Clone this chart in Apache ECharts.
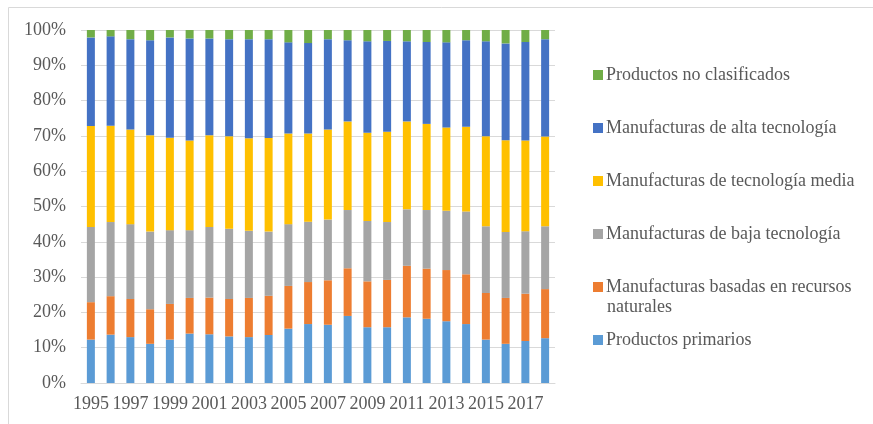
<!DOCTYPE html>
<html><head><meta charset="utf-8">
<script src="https://cdn.jsdelivr.net/npm/echarts@6/dist/echarts.min.js"></script>
<style>html,body{margin:0;padding:0;background:#fff}#c{width:873px;height:424px}</style>
</head><body><div id="c"></div>
<script>
const years = ['1995','1996','1997','1998','1999','2000','2001','2002','2003','2004','2005','2006','2007','2008','2009','2010','2011','2012','2013','2014','2015','2016','2017','2018'];
const productosPrimarios = [12.3,13.7,13.0,11.1,12.3,14.0,13.8,13.2,13.0,13.6,15.4,16.7,16.5,19.0,15.8,15.8,18.6,18.2,17.5,16.7,12.3,11.1,11.9,12.7];
const basadasRecursos = [10.6,10.9,10.8,9.8,10.1,10.1,10.4,10.6,11.1,11.1,12.1,11.9,12.6,13.5,13.0,13.4,14.6,14.2,14.5,14.1,13.2,13.0,13.4,13.9];
const bajaTecnologia = [21.3,21.0,21.2,22.0,20.9,19.2,20.0,19.9,19.0,18.2,17.5,17.1,17.2,16.5,17.1,16.4,16.0,16.6,16.8,17.8,18.9,18.7,17.7,17.8];
const tecnologiaMedia = [28.6,27.3,26.8,27.3,26.2,25.4,26.0,26.2,26.2,26.5,25.7,25.0,25.5,25.1,25.0,25.6,24.9,24.4,23.6,24.0,25.5,26.0,25.7,25.4];
const altaTecnologia = [25.1,25.3,25.6,26.9,28.4,28.9,27.4,27.5,28.1,28.0,25.8,25.6,25.6,23.0,25.9,25.7,22.7,23.2,24.1,24.5,26.9,27.4,27.9,27.6];
const noClasificados = [2.1,1.8,2.6,2.9,2.1,2.4,2.4,2.6,2.6,2.6,3.5,3.7,2.6,2.9,3.2,3.1,3.2,3.4,3.5,2.9,3.2,3.8,3.4,2.6];
const names = ['Productos primarios','Manufacturas basadas en recursos naturales','Manufacturas de baja tecnología','Manufacturas de tecnología media','Manufacturas de alta tecnología','Productos no clasificados'];
const colors = ['#5B9BD5','#ED7D31','#A5A5A5','#FFC000','#4472C4','#70AD47'];
const values = [productosPrimarios,basadasRecursos,bajaTecnologia,tecnologiaMedia,altaTecnologia,noClasificados];
const FONT = 'Liberation Serif';
const TXT = '#595959';
const chart = echarts.init(document.getElementById('c'));
chart.setOption({
  animation:false,
  textStyle:{fontFamily:FONT},
  grid:{left:81,right:318,top:30,bottom:41,containLabel:false},
  graphic:[
    {type:'rect',shape:{x:8.5,y:7.5,width:1000,height:600},style:{fill:'none',stroke:'#d9d9d9',lineWidth:1},silent:true},
    {type:'text',left:607,top:298,style:{text:'naturales',font:'18px "Liberation Serif"',fill:TXT}}
  ],
  legend:{
    orient:'vertical',left:593,top:65,padding:0,itemGap:33,itemWidth:10,itemHeight:10,
    icon:'rect',
    data:names.slice().reverse(),
    formatter:n=>n==='Manufacturas basadas en recursos naturales'?'Manufacturas basadas en recursos':n,
    textStyle:{fontFamily:FONT,fontSize:18,color:TXT,lineHeight:20,padding:[0,0,0,-2]}
  },
  xAxis:{type:'category',data:years,
    axisLine:{lineStyle:{color:'#d9d9d9'}},axisTick:{show:false},
    axisLabel:{interval:1,fontFamily:FONT,fontSize:18,color:TXT,margin:12}},
  yAxis:{type:'value',min:0,max:100,interval:10,
    axisLabel:{formatter:'{value}%',fontFamily:FONT,fontSize:18,color:TXT,margin:15},
    splitLine:{lineStyle:{color:'#d9d9d9'}},axisLine:{show:false},axisTick:{show:false}},
  series:names.map((n,i)=>({name:n,type:'bar',stack:'t',barWidth:8,data:values[i],itemStyle:{color:colors[i]}}))
});
</script></body></html>
